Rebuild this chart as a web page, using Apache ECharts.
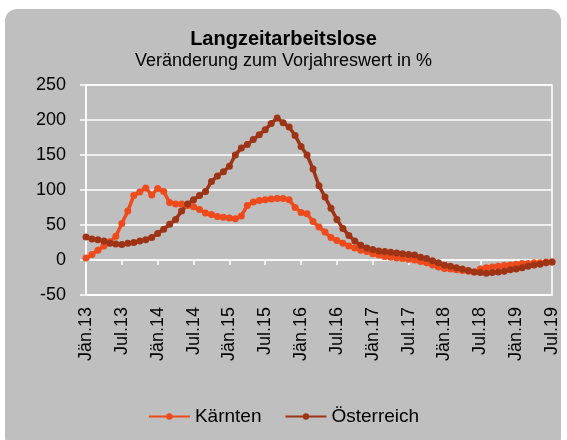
<!doctype html>
<html lang="de">
<head>
	<meta charset="UTF-8">
	<title>Langzeitarbeitslose</title>
	<style>
		html, body { margin: 0; padding: 0; background: #fff; }
		#chart { width: 567px; height: 440px; }
	</style>
</head>
<body>
<div id="chart"></div>
<script src="https://cdn.jsdelivr.net/npm/echarts@6/dist/echarts.min.js"></script>
<script>
	// Monate Jän.13 bis Jul.19
	var monate = ['Jän', 'Feb', 'Mär', 'Apr', 'Mai', 'Jun', 'Jul', 'Aug', 'Sep', 'Okt', 'Nov', 'Dez'];
	var jahre = ['13', '14', '15', '16', '17', '18', '19'];
	var kategorien = [];
	for (var j = 0; j < jahre.length; j++) {
		for (var m = 0; m < 12; m++) {
			if (j == jahre.length - 1 && m > 6) break;
			kategorien.push(monate[m] + '.' + jahre[j]);
		}
	}

	// Veränderung zum Vorjahreswert in %
	var kaernten = [
		3, 8, 14, 20, 26, 34, 52, 70, 92, 97, 103, 93,
		102, 98, 82, 80, 80, 78, 76, 72, 67, 65, 62, 61,
		60, 59, 63, 78, 83, 85, 86, 87, 88, 88, 86, 75,
		68, 66, 55, 47, 40, 32, 28, 24, 20, 17, 14, 12,
		9, 7, 5, 4, 3, 2, 1, 0, -2, -4, -7, -10,
		-12, -13, -14, -15, -16, -17, -13, -11, -10, -9, -8, -7,
		-6, -5, -5, -4, -4, -3, -3
	];
	var oesterreich = [
		33, 30, 29, 27, 24, 23, 22, 24, 25, 27, 29, 32,
		38, 44, 51, 58, 70, 80, 86, 92, 98, 112, 120, 126,
		134, 150, 160, 165, 172, 179, 186, 195, 203, 196, 190, 178,
		162, 150, 130, 106, 90, 74, 58, 45, 35, 27, 21, 17,
		15, 13, 12, 11, 10, 9, 8, 7, 4, 2, -1, -4,
		-7, -9, -11, -13, -15, -17, -18, -19, -18, -17, -16, -14,
		-13, -11, -9, -7, -6, -4, -3
	];

	var schrift = 'Liberation Sans, Arial, sans-serif';

	var myChart = echarts.init(document.getElementById('chart'));
	var option = {
		animation: false,
		textStyle: { fontFamily: schrift },
		graphic: [{
			type: 'rect',
			z: -10,
			shape: { x: 5, y: 9, width: 556, height: 440, r: 12 },
			style: { fill: '#bfbfbf' }
		}],
		title: {
			text: 'Langzeitarbeitslose',
			subtext: 'Veränderung zum Vorjahreswert in %',
			left: 'center',
			top: 24,
			itemGap: 3,
			textStyle: { fontSize: 20, fontWeight: 'bold', color: '#000', fontFamily: schrift },
			subtextStyle: { fontSize: 18, color: '#000', fontFamily: schrift }
		},
		legend: {
			data: ['Kärnten', 'Österreich'],
			top: 402,
			left: 'center',
			itemWidth: 41,
			itemHeight: 8,
			itemGap: 23,
			textStyle: { fontSize: 19, color: '#000', fontFamily: schrift }
		},
		grid: {
			left: 86, right: 15, top: 85, bottom: 145,
			show: true,
			borderColor: '#fff',
			borderWidth: 1.5,
			containLabel: false
		},
		xAxis: [{
			type: 'category',
			data: kategorien,
			boundaryGap: false,
			axisLine: { onZero: false, lineStyle: { color: '#fff', width: 1.5 } },
			axisTick: { show: false },
			axisLabel: {
				interval: 5,
				rotate: 90,
				margin: 12,
				fontSize: 18,
				color: '#000',
				fontFamily: schrift
			}
		}, {
			// Achse auf der Nulllinie mit Teilstrichen
			type: 'category',
			data: kategorien,
			boundaryGap: false,
			position: 'bottom',
			axisLine: { onZero: true, lineStyle: { color: '#fff', width: 1.5 } },
			axisTick: { show: true, interval: 5, length: 5, lineStyle: { color: '#fff', width: 1.5 } },
			axisLabel: { show: false }
		}],
		yAxis: {
			type: 'value',
			min: -50,
			max: 250,
			interval: 50,
			axisLine: { show: true, lineStyle: { color: '#fff', width: 1.5 } },
			axisTick: { show: true, length: 6, lineStyle: { color: '#fff', width: 1.5 } },
			splitLine: { lineStyle: { color: '#fff', width: 1.5 } },
			axisLabel: { fontSize: 18, color: '#000', margin: 20, fontFamily: schrift }
		},
		series: [{
			name: 'Kärnten',
			type: 'line',
			data: kaernten,
			symbol: 'circle',
			symbolSize: 7,
			showAllSymbol: true,
			color: '#ee4a1b',
			lineStyle: { width: 3.5 }
		}, {
			name: 'Österreich',
			type: 'line',
			data: oesterreich,
			symbol: 'circle',
			symbolSize: 7,
			showAllSymbol: true,
			color: '#9e3415',
			lineStyle: { width: 3.5 }
		}]
	};

	myChart.setOption(option);
</script>
</body>
</html>
